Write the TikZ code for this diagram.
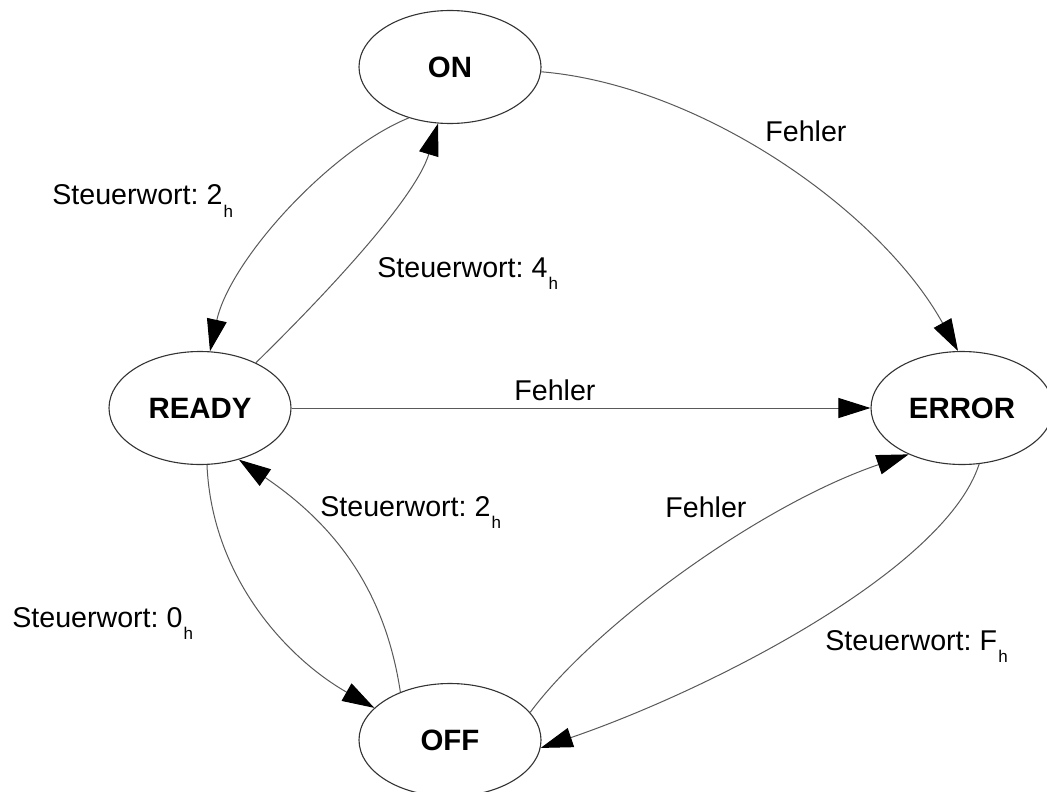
\documentclass[tikz,border=0pt]{standalone}
\usepackage{fontspec}
\setmainfont{Liberation Sans}
\usetikzlibrary{arrows.meta,shapes.geometric}
\frenchspacing
% lowered small "h" marking a hexadecimal value
\newcommand{\hsub}{\hspace{0.6pt}\raisebox{-6pt}{\fontsize{8.5}{9}\selectfont h}}

\begin{document}
\begin{tikzpicture}[x=0.5pt,y=-0.5pt,
  state/.style={ellipse, draw=black!80, line width=0.55pt, fill=white,
    minimum width=91pt, minimum height=56.5pt, inner sep=0pt,
    font=\fontsize{14.7}{17}\selectfont\bfseries},
  trans/.style={draw=black!65, line width=0.5pt,
    -{Triangle[length=16pt,width=10pt,color=black]}},
  lbl/.style={anchor=base west, inner sep=0pt, font=\fontsize{14.3}{17}\selectfont}]
\fill[white] (0,0) rectangle (1047,791);
\useasboundingbox (0,0) rectangle (1047,791);

% states
\node[state] (on)    at (450,67)  {ON};
\node[state] (ready) at (200,408) {READY};
\node[state] (error) at (962,408) {ERROR};
\node[state] (off)   at (450,740) {OFF};

% transitions
\draw[trans] (on.357) .. controls (700,85) and (880,210) .. (error.94);
\draw[trans] (on.231) .. controls (330,150) and (230,260) .. (ready.80);
\draw[trans] (ready.39) .. controls (320,300) and (415,200) .. (on.258);
\draw[trans] (ready.east) -- (error.west);
\draw[trans] (ready.277) .. controls (212,580) and (290,660) .. (off.157);
\draw[trans] (off.136) .. controls (385,590) and (335,525) .. (ready.307);
\draw[trans] (off.19) .. controls (595,625) and (760,505) .. (error.221);
\draw[trans] (error.287) .. controls (945,570) and (710,690) .. (off.355);

% transition labels
\node[lbl] (l1) at (765,142) {Fehler};
\node[lbl] (l2) at (52,205)  {Steuerwort: 2\hsub};
\node[lbl] (l3) at (377,277) {Steuerwort: 4\hsub};
\node[lbl] (l4) at (514,400) {Fehler};
\node[lbl] (l5) at (320,516) {Steuerwort: 2\hsub};
\node[lbl] (l6) at (12,627)  {Steuerwort: 0\hsub};
\node[lbl] (l7) at (665,517) {Fehler};
\node[lbl] (l8) at (825,650) {Steuerwort: F\hsub};
\end{tikzpicture}
\end{document}
